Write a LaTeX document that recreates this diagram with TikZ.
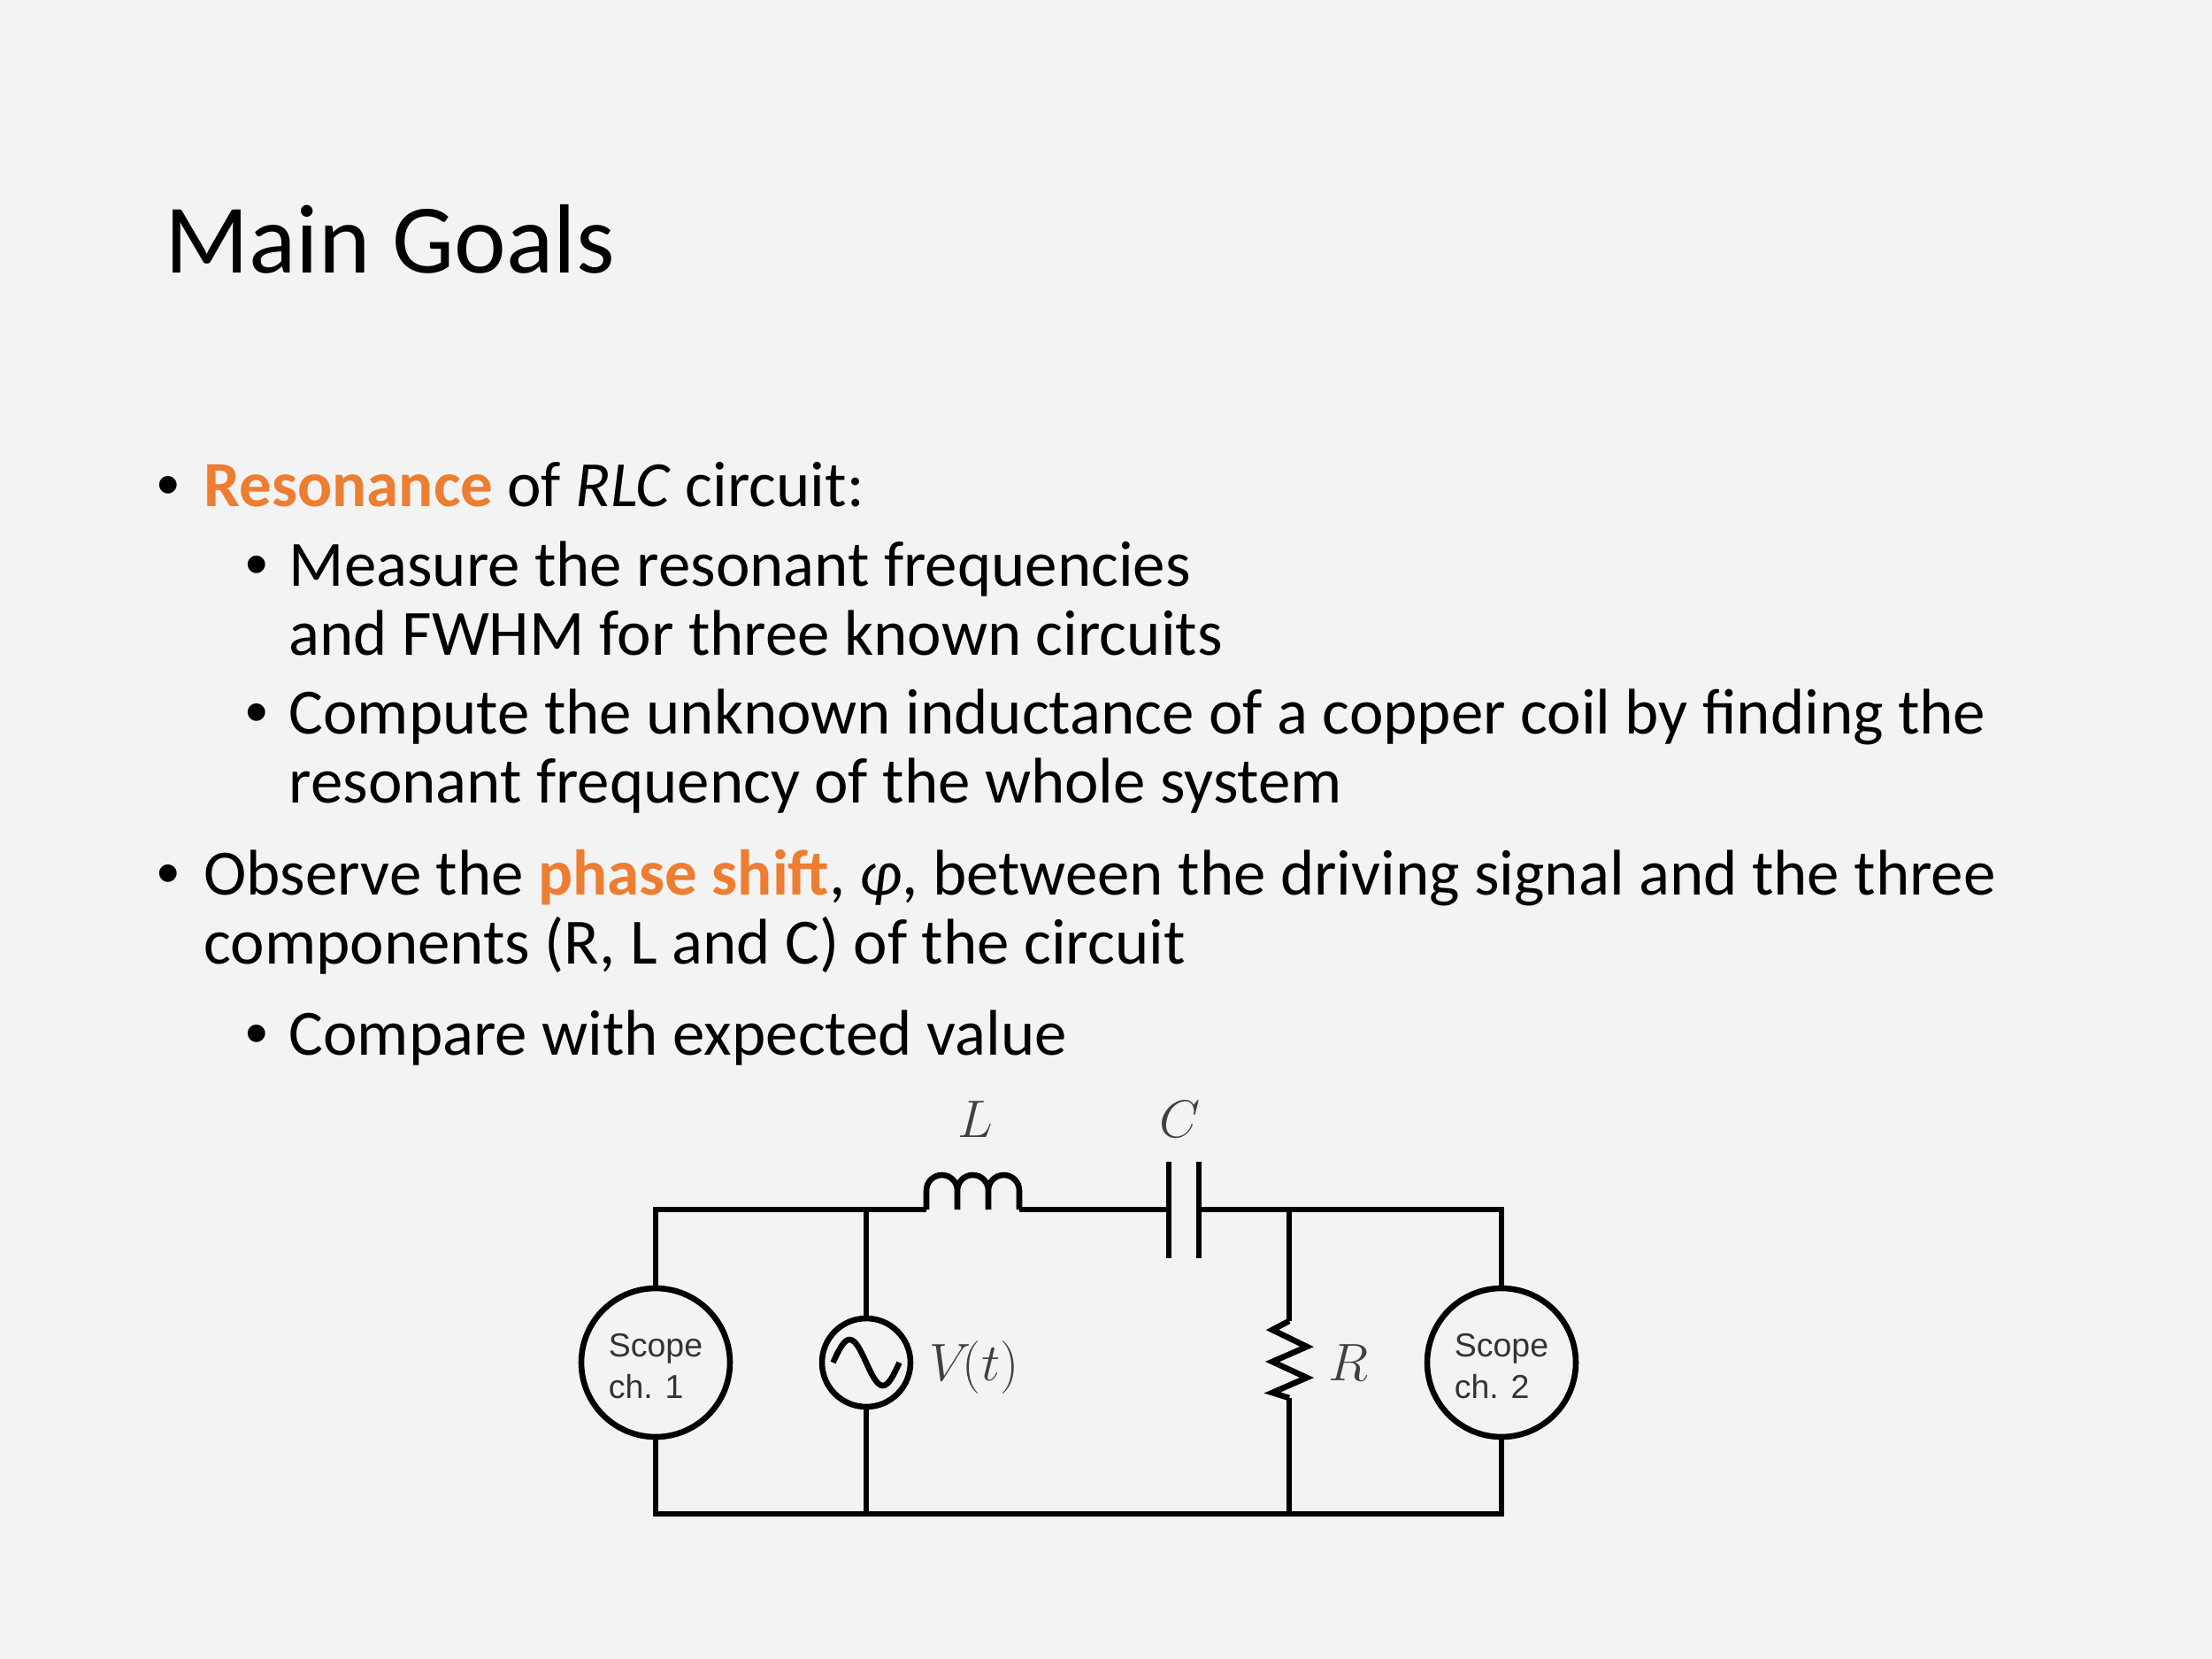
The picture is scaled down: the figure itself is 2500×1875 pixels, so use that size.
\documentclass[tikz,border=0pt]{standalone}
\usepackage{fontspec}
\setmainfont{Carlito}
\newfontfamily\helv{Liberation Sans}
\definecolor{accent}{HTML}{ED7D31}
\definecolor{bg}{HTML}{F3F3F3}
\begin{document}
\begin{tikzpicture}[x=0.01016cm,y=-0.01016cm,
  txt/.style={anchor=base west, inner sep=0pt, font=\fontsize{21bp}{25bp}\selectfont},
  bul/.style={anchor=base, inner sep=0pt, font=\helv\fontsize{21bp}{25bp}\selectfont},
  ttl/.style={anchor=base west, inner sep=0pt, font=\fontsize{32bp}{38bp}\selectfont},
  wire/.style={line width=1.9pt},
  scopebox/.style={circle, draw, line width=1.9pt, minimum size=1.707cm, inner sep=0pt},
  scopetext/.style={inner sep=0pt, align=left, text=black!80, font=\helv\fontsize{10.8bp}{13.3bp}\selectfont},
  srcbox/.style={circle, draw, line width=1.9pt, minimum size=1.016cm, inner sep=0pt},
  mlabel/.style={inner sep=0pt, text=black!75, font=\fontsize{16.5bp}{20bp}\selectfont}
]
\fill[bg] (0,0) rectangle (2500,1875);
\useasboundingbox (0,0) rectangle (2500,1875);

% title
\node[ttl] (title) at (186,308) {Main Goals};

% bullets
\node[bul] (b1) at (190,572) {•};
\node[txt] (t1) at (230,572) {\textbf{\color{accent}Resonance} of \textit{RLC} circuit:};
\node[bul] (b2) at (290,662) {•};
\node[txt] (t2) at (326,662) {Measure the resonant frequencies};
\node[txt] (t3) at (326,740) {and FWHM for three known circuits};
\node[bul] (b3) at (290,829) {•};
\node[txt] (t4) at (326,829) {Compute the unknown inductance of a copper coil by finding the};
\node[txt] (t5) at (326,907) {resonant frequency of the whole system};
\node[bul] (b4) at (190,1011) {•};
\node[txt] (t6) at (230,1011) {Observe the \textbf{\color{accent}phase shift}, \textit{φ}, between the driving signal and the three};
\node[txt] (t7) at (230,1089) {components (R, L and C) of the circuit};
\node[bul] (b5) at (290,1192) {•};
\node[txt] (t8) at (326,1192) {Compare with expected value};

% circuit elements
\node[scopebox] (s1) at (741,1540) {};
\node[scopetext] (s1t) at (741,1544) {Scope\\ch. 1};
\node[scopebox] (s2) at (1697,1540) {};
\node[scopetext] (s2t) at (1697,1544) {Scope\\ch. 2};
\node[srcbox] (src) at (979,1540) {};
\draw[wire, shift={(src.center)}] (-37.5,0) sin (-18.75,-26) cos (0,0) sin (18.75,26) cos (37.5,0);

\coordinate (tl) at (741,1367);
\coordinate (j1) at (979,1367);
\coordinate (lin) at (1047,1367);
\coordinate (lout) at (1152,1367);
\coordinate (c1) at (1321,1367);
\coordinate (c2) at (1355,1367);
\coordinate (j2) at (1457,1367);
\coordinate (tr) at (1697,1367);
\coordinate (bl) at (741,1711);
\coordinate (j3) at (979,1711);
\coordinate (j4) at (1457,1711);
\coordinate (br) at (1697,1711);
\coordinate (rtop) at (1457,1493);
\coordinate (rbot) at (1457,1580);

% wires
\draw[wire] (s1.north) -- (tl) -- (lin);
\draw[wire] (j1) -- (src.north);
\draw[wire] (src.south) -- (j3);
\draw[wire] (s1.south) -- (bl) -- (br) -- (s2.south);
\draw[wire] (lout) -- (c1);
\draw[wire] (c2) -- (tr) -- (s2.north);
\draw[wire] (j2) -- (rtop);
\draw[wire] (rbot) -- (j4);

% inductor
\draw[wire] (lin) -- ++(0,-21.5) arc[start angle=180,end angle=0,radius=0.1778cm]
  -- ++(0,21.5) -- ++(0,-21.5) arc[start angle=180,end angle=0,radius=0.1778cm]
  -- ++(0,21.5) -- ++(0,-21.5) arc[start angle=180,end angle=0,radius=0.1778cm]
  -- (lout);

% capacitor
\draw[wire] (c1) ++(0,-54) -- ++(0,109);
\draw[wire] (c2) ++(0,-54) -- ++(0,109);

% resistor
\draw[wire, line join=miter] (rtop) -- ++(-19,10) -- ++(39,19) -- ++(-39,17) -- ++(39,18) -- ++(-39,17) -- (rbot);

% labels
\node[mlabel, anchor=base] (lL) at (1102,1285) {$L$};
\node[mlabel, anchor=base] (lC) at (1334,1285) {$C$};
\node[mlabel, anchor=base west] (lV) at (1050,1560) {$V\!(t)$};
\node[mlabel, anchor=base west] (lR) at (1501,1560) {$R$};
\end{tikzpicture}
\end{document}
